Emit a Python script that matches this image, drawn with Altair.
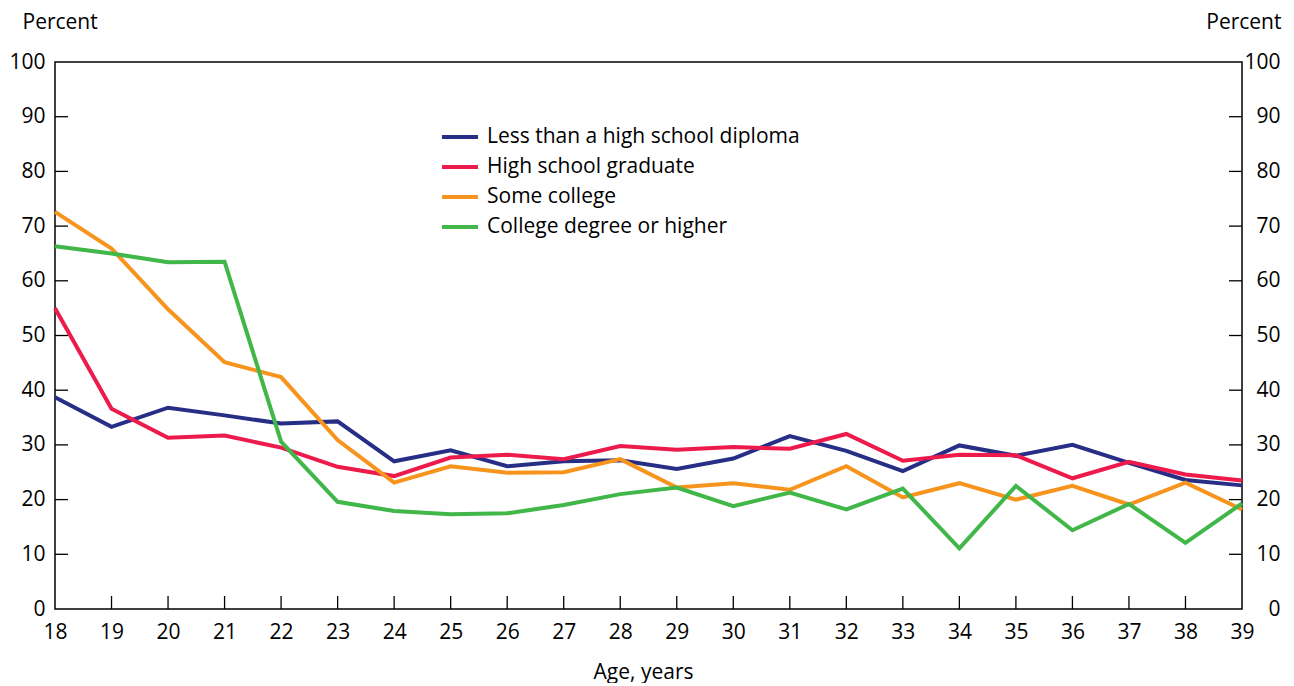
import altair as alt
import pandas as pd

ages = list(range(18, 40))
series_names = [
    "Less than a high school diploma",
    "High school graduate",
    "Some college",
    "College degree or higher",
]
colors = ["#262e85", "#ed1b4b", "#f7941e", "#41b649"]

less_hs = [38.7, 33.3, 36.8, 35.4, 33.9, 34.3, 27.0, 29.0, 26.1, 27.0, 27.2, 25.6,
           27.5, 31.6, 28.9, 25.2, 29.9, 28.0, 30.0, 26.7, 23.6, 22.6]
hs_grad = [55.0, 36.6, 31.3, 31.7, 29.5, 26.0, 24.3, 27.7, 28.2, 27.4, 29.8, 29.1,
           29.6, 29.3, 32.0, 27.1, 28.2, 28.1, 23.9, 26.9, 24.6, 23.5]
some_col = [72.6, 65.9, 54.8, 45.1, 42.4, 30.9, 23.1, 26.1, 24.9, 25.0, 27.4, 22.2,
            23.0, 21.8, 26.1, 20.4, 23.0, 20.0, 22.5, 19.1, 23.1, 18.2]
col_deg = [66.3, 65.0, 63.4, 63.5, 30.6, 19.6, 17.9, 17.3, 17.5, 19.0, 21.0, 22.2,
           18.8, 21.3, 18.2, 22.0, 11.1, 22.5, 14.4, 19.2, 12.1, 19.3]

y_ticks = [0, 10, 20, 30, 40, 50, 60, 70, 80, 90, 100]
inner_y_ticks = [10, 20, 30, 40, 50, 60, 70, 80, 90]

rows = []
for name, vals in zip(series_names, [less_hs, hs_grad, some_col, col_deg]):
    for a, v in zip(ages, vals):
        rows.append({"age": a, "value": v, "series": name})
df = pd.DataFrame(rows)
df_y = pd.DataFrame({"v": inner_y_ticks})
df_x = pd.DataFrame({"age": ages[1:-1]})

W, H = 1187, 547
FONT = "Open Sans"
FS = 21
TICK = 13

x_scale = alt.Scale(domain=[18, 39], nice=False, zero=False)
y_scale = alt.Scale(domain=[0, 100], nice=False)

x_axis = alt.Axis(values=ages, ticks=False, domain=False, grid=False, labelPadding=12,
                  labelFontSize=FS, labelColor="black", title="Age, years",
                  titleFontSize=FS, titleFontWeight="normal", titleColor="black",
                  titleX=588, titleY=69, titleBaseline="alphabetic", format="d",
                  labelFlush=False)

lines = alt.Chart(df).mark_line(strokeWidth=4, strokeJoin="miter").encode(
    x=alt.X("age:Q", scale=x_scale, axis=x_axis),
    y=alt.Y("value:Q", scale=y_scale,
            axis=alt.Axis(orient="left", values=y_ticks, ticks=False, domain=False, grid=False,
                          labelPadding=10, labelFontSize=FS, labelColor="black",
                          title="Percent", titleAngle=0, titleAlign="left",
                          titleBaseline="alphabetic", titleX=-33, titleY=-34,
                          titleFontSize=FS, titleFontWeight="normal", titleColor="black")),
    color=alt.Color("series:N", scale=alt.Scale(domain=series_names, range=colors),
                    sort=series_names,
                    legend=alt.Legend(orient="none", legendX=385, legendY=55, title=None,
                                      symbolType="stroke", symbolSize=1296, symbolStrokeWidth=4,
                                      labelFontSize=FS, labelColor="black", labelOffset=7,
                                      labelLimit=500, rowPadding=-2)),
)

left_ticks = alt.Chart(df_y).mark_rule(color="black", strokeWidth=1.3).encode(
    y=alt.Y("v:Q", scale=y_scale, axis=None),
    x=alt.value(0), x2=alt.value(TICK),
)

right_ticks = alt.Chart(df_y).mark_rule(color="black", strokeWidth=1.3).encode(
    y=alt.Y("v:Q", scale=y_scale,
            axis=alt.Axis(orient="right", values=y_ticks, ticks=False, domain=False, grid=False,
                          labelPadding=38, labelAlign="right", labelFontSize=FS,
                          labelColor="black", title="Percent", titleAngle=0,
                          titleAlign="right", titleBaseline="alphabetic", titleX=39,
                          titleY=-34, titleFontSize=FS, titleFontWeight="normal",
                          titleColor="black")),
    x=alt.value(W - TICK), x2=alt.value(W),
)

x_ticks = alt.Chart(df_x).mark_rule(color="black", strokeWidth=1.3).encode(
    x=alt.X("age:Q", scale=x_scale),
    y=alt.value(H - TICK), y2=alt.value(H),
)

chart = alt.layer(lines, left_ticks, x_ticks, right_ticks).resolve_scale(
    y="independent"
).properties(
    width=W, height=H,
    autosize=alt.AutoSizeParams(type="none"),
    padding={"left": 47, "top": 54, "right": 42, "bottom": 74},
).configure(
    font=FONT
).configure_view(
    stroke="black", strokeWidth=1.5
)

chart.save("out.html", embed_options={"renderer": "svg", "actions": False})
